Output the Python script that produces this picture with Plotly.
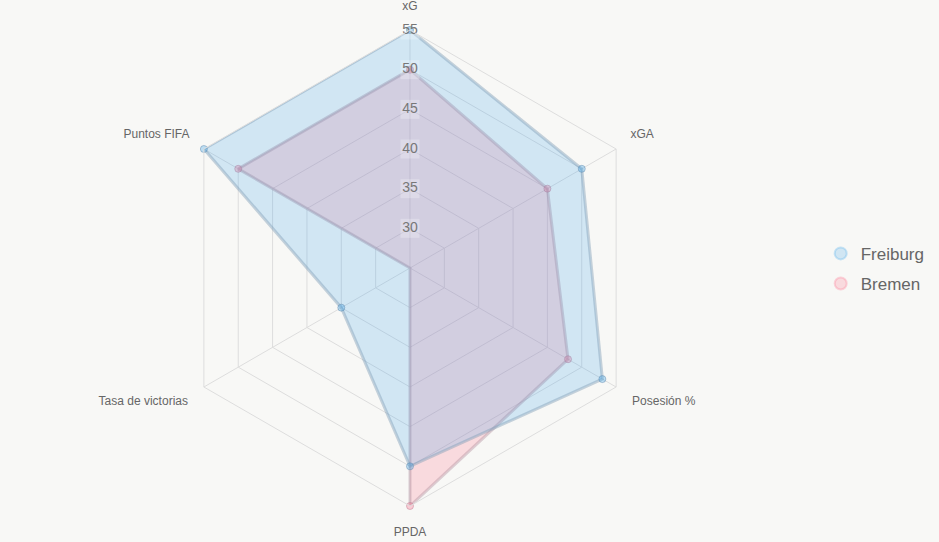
import plotly.graph_objects as go

categories = ["xG", "xGA", "Posesión %", "PPDA", "Tasa de victorias", "Puntos FIFA"]
freiburg = [55, 50, 53, 50, 35, 55]
bremen = [50, 45, 48, 55, 25, 50]
radial_ticks = [30, 35, 40, 45, 50, 55]
label_positions = ["top center", "top right", "bottom right", "bottom center", "bottom left", "top left"]
label_r = [53.5, 53.5, 53.7, 53.95, 53.7, 53.5]  # on the larger, invisible label polar

def closed(v):
    return list(v) + [v[0]]

FONT = "Liberation Sans, Arial"
fig = go.Figure()
# Bremen drawn first so Freiburg sits on top (as in the reference)
fig.add_trace(go.Scatterpolar(
    r=closed(bremen), theta=closed(categories), name="Bremen",
    mode="lines+markers", fill="toself",
    fillcolor="rgba(255,99,132,0.2)",
    line=dict(color="rgba(185,150,165,0.45)", width=3),
    marker=dict(size=7, color="rgba(255,99,132,0.3)", line=dict(color="rgba(190,130,150,0.5)", width=1)),
    showlegend=False,
))
fig.add_trace(go.Scatterpolar(
    r=closed(freiburg), theta=closed(categories), name="Freiburg",
    mode="lines+markers", fill="toself",
    fillcolor="rgba(54,162,235,0.2)",
    line=dict(color="rgba(130,160,185,0.45)", width=3),
    marker=dict(size=7, color="rgba(54,162,235,0.3)", line=dict(color="rgba(100,140,175,0.5)", width=1)),
    showlegend=False,
))
# radial tick labels with faint backdrop
fig.add_trace(go.Scatterpolar(
    r=radial_ticks, theta=[categories[0]] * len(radial_ticks),
    mode="markers+text", text=[str(t) for t in radial_ticks], textposition="middle center",
    marker=dict(symbol="square", size=19, color="rgba(255,255,255,0.25)", line=dict(width=0)),
    textfont=dict(size=14, color="#777777", family=FONT),
    showlegend=False, hoverinfo="skip",
))
# angular category labels (on a second, invisible polar with the same centre)
fig.add_trace(go.Scatterpolar(
    r=label_r, theta=categories, subplot="polar2",
    mode="text", text=categories, textposition=label_positions,
    textfont=dict(size=12, color="#666666", family=FONT),
    cliponaxis=False, showlegend=False, hoverinfo="skip",
))
# legend entries (circle markers only)
for name, fc, lc in [("Freiburg", "rgba(54,162,235,0.2)", "rgba(54,162,235,0.25)"),
                     ("Bremen", "rgba(255,99,132,0.2)", "rgba(255,99,132,0.25)")]:
    fig.add_trace(go.Scatterpolar(
        r=[None], theta=[None], name=name, mode="markers", legendgroup=name,
        marker=dict(size=16, color=fc, line=dict(color=lc, width=1)),
        showlegend=True, hoverinfo="skip",
    ))

W, H = 939, 542
cx, cy, R = 410, 268, 238
R2 = 268
hidden_axes = dict(
    bgcolor="rgba(0,0,0,0)",
    radialaxis=dict(range=[25, 55], visible=False, showgrid=False, showline=False, showticklabels=False),
    angularaxis=dict(rotation=90, direction="clockwise", showgrid=False, showline=False,
                     showticklabels=False, ticks="", categoryarray=categories, type="category"),
)
fig.update_layout(
    width=W, height=H,
    margin=dict(l=0, r=0, t=0, b=0),
    paper_bgcolor="#f8f8f6",
    plot_bgcolor="#f8f8f6",
    font=dict(family=FONT, color="#666666", size=12),
    polar=dict(
        domain=dict(x=[(cx - R) / W, (cx + R) / W], y=[(H - cy - R) / H, (H - cy + R) / H]),
        bgcolor="rgba(0,0,0,0)",
        gridshape="linear",
        radialaxis=dict(range=[25, 55], tickvals=radial_ticks, showticklabels=False,
                        ticks="", showline=False, gridcolor="#dddddd", gridwidth=1),
        angularaxis=dict(rotation=90, direction="clockwise", gridcolor="#dddddd",
                         linecolor="#dddddd", linewidth=1, ticks="", showticklabels=False),
    ),
    polar2=dict(
        domain=dict(x=[(cx - R2) / W, (cx + R2) / W], y=[max(0, (H - cy - R2) / H), min(1, (H - cy + R2) / H)]),
        **hidden_axes,
    ),
    legend=dict(x=0.874, y=0.504, xanchor="left", yanchor="middle",
                font=dict(size=17, color="#666666"), bgcolor="rgba(0,0,0,0)",
                itemsizing="constant", tracegroupgap=5),
    showlegend=True,
)
fig.write_html("out.html")
